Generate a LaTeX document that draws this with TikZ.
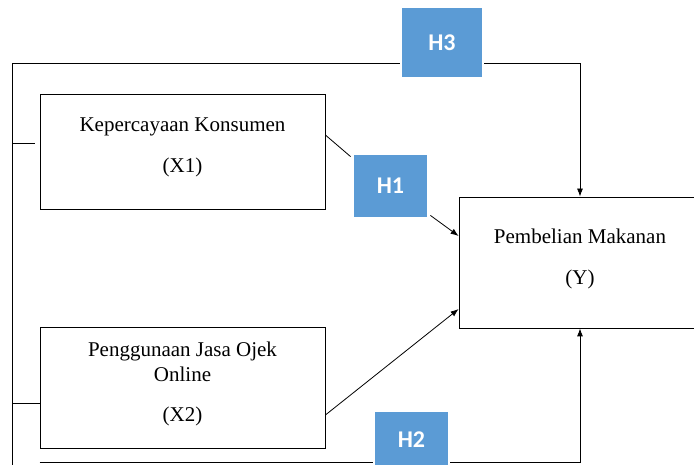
\documentclass[tikz,border=0pt]{standalone}
\usepackage{fontspec}
\setmainfont{Liberation Serif}
\newfontfamily\hypfont{Carlito}
\usetikzlibrary{arrows.meta}
\definecolor{hblue}{RGB}{91,155,213}
\begin{document}
\begin{tikzpicture}[x=1pt, y=-1pt, line width=0.8pt,
		>={Latex[length=8pt,width=6pt]},
		var/.style = {shape=rectangle, draw, align=center, inner sep=0pt,
			text depth=12pt, font=\fontsize{21}{25}\selectfont},
		hyp/.style = {shape=rectangle, fill=hblue, text=white, inner sep=0pt,
			font=\hypfont\bfseries\fontsize{24}{28}\selectfont}]
		\useasboundingbox (0,0) rectangle (694,465);
		% variables
		\node[var, minimum width=285pt, minimum height=115pt] (x1) at (182.5,151.5)
			{Kepercayaan Konsumen\\[16pt](X1)};
		\node[var, minimum width=285pt, minimum height=121pt] (x2) at (182.5,387.5)
			{Penggunaan Jasa Ojek\\Online\\[15pt](X2)};
		\node[var, minimum width=242pt, minimum height=131pt] (y) at (580,262.5)
			{Pembelian Makanan\\[16pt](Y)};
		% hypotheses
		\node[hyp, minimum width=80pt, minimum height=69pt] (h3) at (442,42.5) {H3};
		\node[hyp, minimum width=73pt, minimum height=62pt] (h1) at (390.5,186) {H1};
		\node[hyp, minimum width=73pt, minimum height=56pt] (h2) at (411.5,440) {H2};
		\coordinate (top) at (12,63);
		\coordinate (bot) at (12,470);
		% H3
		\draw (bot) -- (top) -- ([xshift=-2pt]h3.west |- top);
		\draw[->] ([xshift=2pt]h3.east |- top) -- (y.north |- top) -- (y.north);
		\draw (top |- 0,143) -- ([xshift=-5pt]x1.west |- 0,143);
		\draw (top |- 0,403) -- (x2.west |- 0,403);
		% H1
		\draw (x1.east |- 0,135) -- ([shift={(-3pt,-2pt)}]h1.north west);
		\draw[->] ([shift={(3pt,2pt)}]h1.south east) -- (y.west |- 0,236);
		\draw[->] (x2.east |- 0,415) -- (y.west |- 0,309);
		% H2
		\draw (x2.west |- 0,462) -- ([xshift=-2pt]h2.west |- 0,462);
		\draw[->] ([xshift=2pt]h2.east |- 0,462) -- (y.south |- 0,462) -- (y.south);
\end{tikzpicture}
\end{document}
